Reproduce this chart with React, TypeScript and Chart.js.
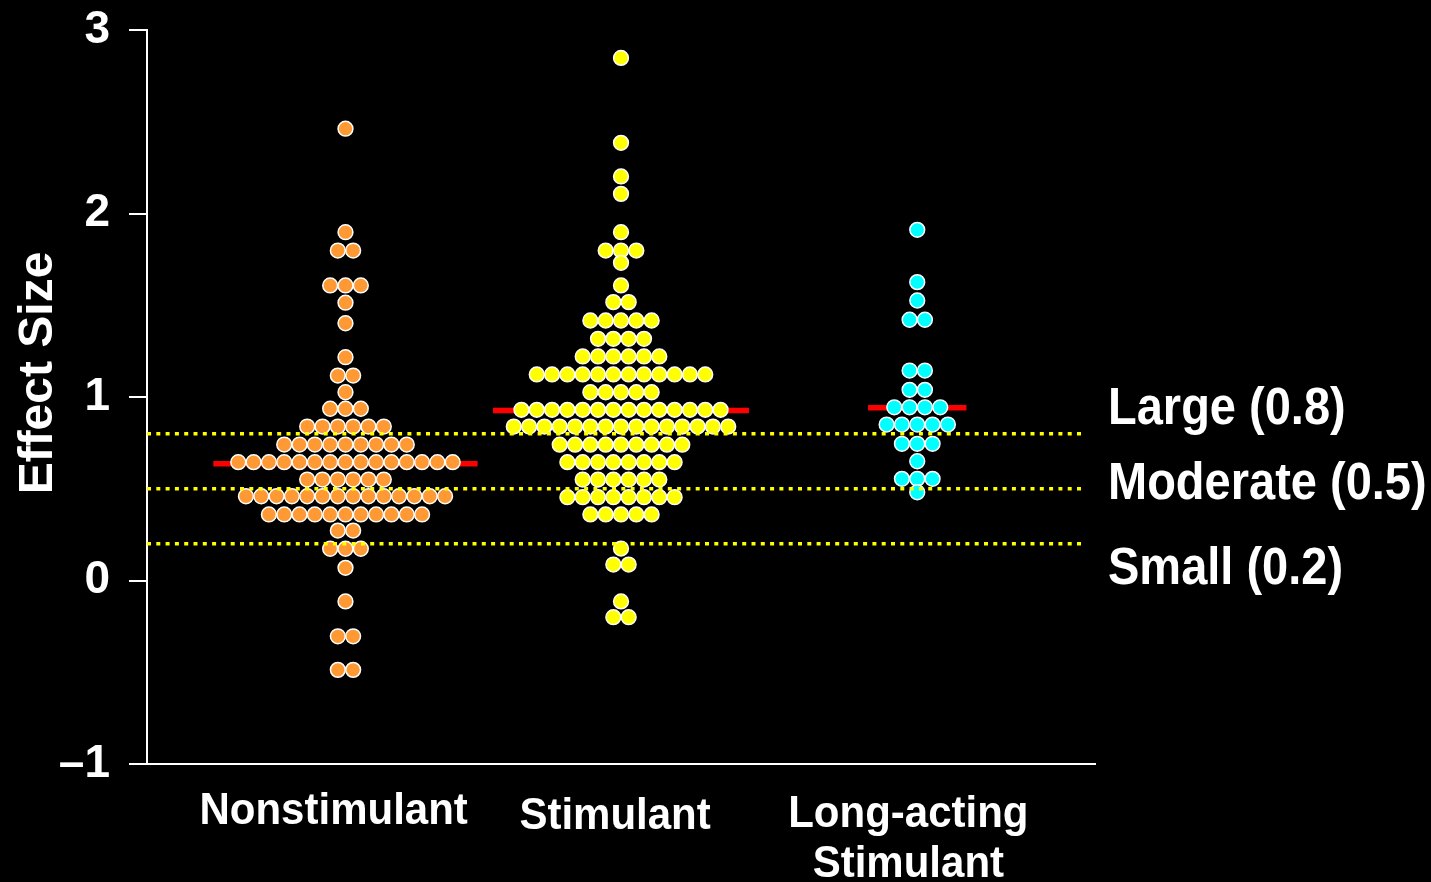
import React, { useEffect, useRef } from "react";
import { Chart, registerables } from "chart.js";

Chart.register(...registerables);

// ---- data ----------------------------------------------------------------
const GROUP_NAMES = ["Nonstimulant", "Stimulant", "Long-acting Stimulant"];

// Each row of the swarm: [effect size, number of studies at that size]
const NONSTIM_ROWS: [number, number][] = [
  [2.462, 1], [1.898, 1], [1.798, 2], [1.608, 3], [1.514, 1], [1.402, 1],
  [1.217, 1], [1.117, 2], [1.026, 1], [0.936, 3], [0.839, 6], [0.741, 9],
  [0.645, 15], [0.55, 6], [0.459, 14], [0.36, 11], [0.272, 2], [0.173, 3],
  [0.069, 1], [-0.114, 1], [-0.304, 2], [-0.487, 2],
];
const STIM_ROWS: [number, number][] = [
  [2.848, 1], [2.385, 1], [2.202, 1], [2.107, 1], [1.898, 1], [1.798, 3],
  [1.731, 1], [1.608, 1], [1.517, 2], [1.417, 5], [1.317, 4], [1.221, 6],
  [1.123, 12], [1.026, 5], [0.93, 14], [0.839, 15], [0.74, 9], [0.645, 8],
  [0.55, 6], [0.454, 8], [0.36, 5], [0.174, 1], [0.087, 2], [-0.114, 1],
  [-0.2, 2],
];
const LONG_ROWS: [number, number][] = [
  [1.911, 1], [1.626, 1], [1.526, 1], [1.421, 2], [1.144, 2], [1.039, 2],
  [0.944, 4], [0.85, 5], [0.745, 3], [0.65, 1], [0.554, 3], [0.481, 1],
];
const GROUP_MEANS = [0.636, 0.926, 0.941];
const THRESHOLDS = [0.8, 0.5, 0.2];
const THRESHOLD_LABELS = ["Large (0.8)", "Moderate (0.5)", "Small (0.2)"];
const Y_TICKS = [-1, 0, 1, 2, 3];

// ---- layout & style --------------------------------------------------------
const FONT = "'Liberation Sans', Arial, Helvetica, sans-serif";
const GROUP_X = [1.07, 2.0, 3.0];
const LABEL_X = [1.03, 1.98, 2.97];
const MEAN_HALF_WIDTH = [0.446, 0.432, 0.166];
const DOT_STEP = 0.0517;
const DOT_COLORS = ["#FF9933", "#FFFF00", "#00FFFF"];
const THRESHOLD_LABEL_SHIFT = [-10, 10, 40];

function swarm(rows: [number, number][], cx: number) {
  const pts: { x: number; y: number }[] = [];
  for (const [v, n] of rows) {
    for (let i = 0; i < n; i++) {
      pts.push({ x: cx + (i - (n - 1) / 2) * DOT_STEP, y: v });
    }
  }
  return pts;
}

// draws text slightly taller than the font's natural proportions
function tallText(ctx: any, text: string, x: number, y: number, stretch: number) {
  ctx.save();
  ctx.translate(x, y);
  ctx.scale(1, stretch);
  ctx.fillText(text, 0, 0);
  ctx.restore();
}

const textPlugin = {
  id: "effectText",
  afterDraw(chart: any) {
    const { ctx, scales } = chart;
    const x = scales.x;
    const y = scales.y;
    const bottom = chart.chartArea.bottom;
    ctx.save();
    ctx.fillStyle = "#FFFFFF";

    // axis title
    ctx.save();
    ctx.font = `bold 48px ${FONT}`;
    ctx.translate(52, 373);
    ctx.rotate(-Math.PI / 2);
    ctx.textAlign = "center";
    ctx.textBaseline = "alphabetic";
    ctx.fillText("Effect Size", 0, 0);
    ctx.restore();

    // category names
    ctx.font = `bold 42px ${FONT}`;
    ctx.textAlign = "center";
    ctx.textBaseline = "alphabetic";
    tallText(ctx, GROUP_NAMES[0], x.getPixelForValue(LABEL_X[0]), bottom + 60, 1.06);
    tallText(ctx, GROUP_NAMES[1], x.getPixelForValue(LABEL_X[1]), bottom + 65, 1.06);
    const parts = GROUP_NAMES[2].split(" ");
    tallText(ctx, parts[0], x.getPixelForValue(LABEL_X[2]), bottom + 63, 1.06);
    tallText(ctx, parts[1], x.getPixelForValue(LABEL_X[2]), bottom + 113, 1.06);

    // threshold names
    ctx.font = `bold 47px ${FONT}`;
    ctx.textAlign = "left";
    THRESHOLDS.forEach((t, i) => {
      tallText(
        ctx,
        THRESHOLD_LABELS[i],
        chart.chartArea.right + 13,
        y.getPixelForValue(t) + THRESHOLD_LABEL_SHIFT[i],
        1.1
      );
    });
    ctx.restore();
  },
};

export default function App() {
  const ref = useRef<HTMLCanvasElement | null>(null);

  useEffect(() => {
    document.body.style.margin = "0";
    document.body.style.background = "#000";
    const canvas = ref.current;
    if (!canvas) return;

    const rows = [NONSTIM_ROWS, STIM_ROWS, LONG_ROWS];

    const dotSets = rows.map((r, i) => ({
      type: "scatter" as const,
      label: GROUP_NAMES[i],
      data: swarm(r, GROUP_X[i]),
      backgroundColor: DOT_COLORS[i],
      borderColor: "#FFFFFF",
      borderWidth: 1.5,
      pointRadius: 7.4,
      pointHoverRadius: 7.4,
      order: 1,
    }));

    const meanSets = GROUP_MEANS.map((m, i) => ({
      type: "line" as const,
      label: `${GROUP_NAMES[i]} mean`,
      data: [
        { x: GROUP_X[i] - MEAN_HALF_WIDTH[i], y: m },
        { x: GROUP_X[i] + MEAN_HALF_WIDTH[i], y: m },
      ],
      borderColor: "#FF0000",
      borderWidth: 5.5,
      pointRadius: 0,
      fill: false,
      order: 2,
    }));

    const thresholdSets = THRESHOLDS.map((t) => ({
      type: "line" as const,
      label: `threshold ${t}`,
      data: [
        { x: 0.4, y: t },
        { x: 3.57, y: t },
      ],
      borderColor: "#FFFF00",
      borderWidth: 3.5,
      borderDash: [4, 5.3],
      borderCapStyle: "butt" as const,
      pointRadius: 0,
      fill: false,
      order: 0,
    }));

    const chart = new Chart(canvas, {
      type: "scatter",
      data: { datasets: [...thresholdSets, ...dotSets, ...meanSets] as any },
      plugins: [textPlugin],
      options: {
        responsive: false,
        devicePixelRatio: 1,
        animation: false,
        layout: { padding: { top: 30, left: 0, right: 336, bottom: 0 } },
        plugins: {
          legend: { display: false },
          tooltip: { enabled: false },
        },
        scales: {
          x: {
            type: "linear",
            min: 0.4,
            max: 3.6,
            ticks: { display: false },
            grid: { display: false },
            border: { display: true, color: "#FFFFFF", width: 2 },
            afterFit: (s: any) => {
              s.height = 118;
              s.paddingLeft = 0;
              s.paddingRight = 0;
            },
          },
          y: {
            type: "linear",
            min: Y_TICKS[0],
            max: Y_TICKS[Y_TICKS.length - 1],
            afterBuildTicks: (s: any) => {
              s.ticks = Y_TICKS.map((v) => ({ value: v }));
            },
            ticks: {
              color: "#FFFFFF",
              padding: 19,
              font: { family: FONT, size: 46, weight: "bold" },
              callback: (v: any) => (Number(v) < 0 ? `\u2013${Math.abs(Number(v))}` : `${v}`),
            },
            grid: {
              display: true,
              drawOnChartArea: false,
              drawTicks: true,
              tickLength: 18,
              color: "#FFFFFF",
              lineWidth: 2,
            },
            border: { display: true, color: "#FFFFFF", width: 2 },
            afterFit: (s: any) => {
              s.width = 147;
              s.paddingTop = 0;
              s.paddingBottom = 0;
            },
          },
        },
      } as any,
    });

    return () => chart.destroy();
  }, []);

  return (
    <div
      style={{
        position: "fixed",
        left: 0,
        top: 0,
        width: 1431,
        height: 882,
        background: "#000000",
      }}
    >
      <canvas ref={ref} width={1431} height={882} style={{ display: "block" }} />
    </div>
  );
}
